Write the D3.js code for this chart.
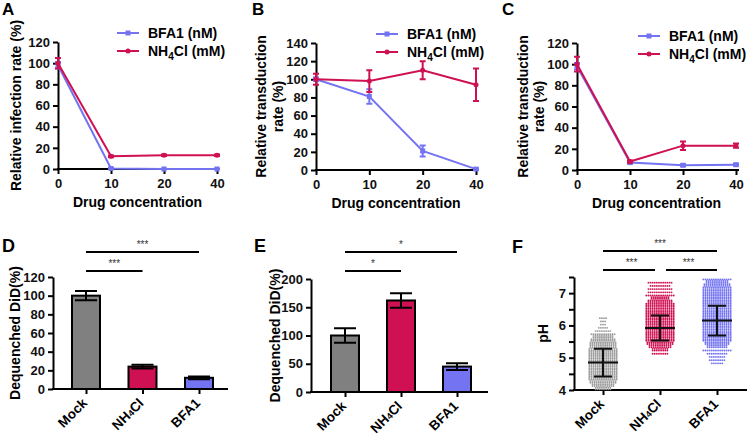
<!DOCTYPE html>
<html>
<head>
<meta charset="utf-8">
<script src="https://cdn.jsdelivr.net/npm/d3@7"></script>
<style>
  body { margin: 0; background: #fff; }
  svg { font-family: 'Liberation Sans', Arial, sans-serif; font-weight: bold; }
  .axis path, .axis line { stroke: #000; stroke-width: 2px; }
  .axis text { font-size: 13px; font-weight: bold; fill: #111; font-family: 'Liberation Sans', Arial, sans-serif; }
</style>
</head>
<body>
<svg width="750" height="436"></svg>
<script>
// ---- data ----
var concLabels = ['0', '10', '20', '40'];
var groups = ['Mock', 'NH4Cl', 'BFA1'];

// panel A: relative infection rate
var aBFA1 = [98, 0.5, 0, 0];
var aBFA1Err = [3, 0.5, 0.3, 0.3];
var aNH4 = [100, 12, 13, 13];
var aNH4Err = [5, 0.8, 0.8, 0.8];

// panel B: relative transduction rate
var bBFA1 = [100, 81, 21, 1];
var bBFA1Err = [2, 8, 6, 1];
var bNH4 = [100, 98, 110, 94];
var bNH4Err = [6, 12, 10, 18];

// panel C: relative transduction rate
var cBFA1 = [98, 7, 4.5, 5];
var cBFA1Err = [3, 1, 1, 1];
var cNH4 = [100, 8, 23, 23];
var cNH4Err = [7, 1, 4, 2];

// panel D / E: dequenched DiD (%)
var dMean = [100, 24, 12];
var dErr = [5, 2, 1.5];
var eMean = [100, 162, 45];
var eErr = [13, 13, 6];

// panel F: pH distribution, counts per 0.1 pH bin
var fBinStart = [4.0, 5.1, 4.8];
var fMockCounts = [16, 22, 26, 28, 28, 28, 28, 28, 28, 28, 28, 28, 28, 26, 26, 24, 20, 12, 8, 5, 3, 3, 4];
var fNH4Counts = [8, 16, 22, 26, 28, 28, 28, 28, 28, 28, 28, 28, 28, 28, 28, 28, 24, 18, 14, 12, 12, 10, 12];
var fBFA1Counts = [6, 8, 8, 10, 14, 20, 24, 28, 28, 28, 28, 28, 28, 28, 28, 28, 28, 28, 28, 28, 28, 28, 28, 28, 26, 22, 14];
var fMean = [4.85, 5.92, 6.15];
var fSD = [0.43, 0.39, 0.46];

var colors = {BFA1: '#7474f2', NH4: '#cf1052', mock: '#808080', mockDot: '#9c9c9c'};

var svg = d3.select('svg');

function panelLetter(x, y, t, size) {
  svg.append('text').attr('x', x).attr('y', y).attr('font-size', size).attr('font-weight', 'bold').text(t);
}

function nh4Text(sel, suffix, subSize, dy) {
  sel.append('tspan').text('NH');
  sel.append('tspan').attr('font-size', subSize).attr('dy', dy).text('4');
  sel.append('tspan').attr('dy', -dy).text('Cl' + suffix);
}

// ---- line panels A, B, C ----
function linePanel(p) {
  var g = svg.append('g');
  var x = d3.scalePoint().domain(concLabels).range([p.left, p.right]);
  var y = d3.scaleLinear().domain([0, p.yMax]).range([p.bottom, p.top]);

  g.append('g').attr('class', 'axis')
    .attr('transform', 'translate(' + p.left + ',0)')
    .call(d3.axisLeft(y).tickValues(d3.range(0, p.yMax + 1, 20)).tickSize(5).tickSizeOuter(0).tickPadding(3));
  g.append('g').attr('class', 'axis')
    .attr('transform', 'translate(0,' + p.bottom + ')')
    .call(d3.axisBottom(x).tickSize(5).tickSizeOuter(0).tickPadding(5))
    .select('.domain').attr('d', 'M' + (p.left - 1) + ',0H' + (p.right + 3));

  var series = [
    {v: p.bfa, e: p.bfaErr, c: colors.BFA1, sq: true},
    {v: p.nh4, e: p.nh4Err, c: colors.NH4, sq: false}
  ];
  var line = d3.line().x(function(d, i) { return x(concLabels[i]); }).y(function(d) { return y(d); });
  series.forEach(function(s) {
    g.append('path').datum(s.v).attr('d', line).attr('fill', 'none').attr('stroke', s.c).attr('stroke-width', 2);
    s.v.forEach(function(v, i) {
      var cx = x(concLabels[i]);
      var y1 = y(v + s.e[i]), y2 = y(Math.max(0, v - s.e[i]));
      g.append('path').attr('d', 'M' + cx + ',' + y1 + 'V' + y2 + 'M' + (cx - 3) + ',' + y1 + 'H' + (cx + 3) + 'M' + (cx - 3) + ',' + y2 + 'H' + (cx + 3))
        .attr('stroke', s.c).attr('stroke-width', 2).attr('fill', 'none');
      if (s.sq) g.append('rect').attr('x', cx - 2.5).attr('y', y(v) - 2.5).attr('width', 5).attr('height', 5).attr('fill', s.c);
      else g.append('circle').attr('cx', cx).attr('cy', y(v)).attr('r', 2.5).attr('fill', s.c);
    });
  });

  // legend
  var lg = [{label: 'BFA1 (nM)', c: colors.BFA1, sq: true, y: p.legY}, {label: null, c: colors.NH4, sq: false, y: p.legY + 18}];
  lg.forEach(function(l) {
    g.append('line').attr('x1', p.legX).attr('x2', p.legX + 22).attr('y1', l.y).attr('y2', l.y).attr('stroke', l.c).attr('stroke-width', 2);
    if (l.sq) g.append('rect').attr('x', p.legX + 8.5).attr('y', l.y - 2.5).attr('width', 5).attr('height', 5).attr('fill', l.c);
    else g.append('circle').attr('cx', p.legX + 11).attr('cy', l.y).attr('r', 2.5).attr('fill', l.c);
    var t = g.append('text').attr('x', p.legX + 31).attr('y', l.y + 5).attr('font-size', 14);
    if (l.label) t.text(l.label); else nh4Text(t, ' (mM)', 10, 4);
  });

  // axis titles
  g.append('text').attr('x', (p.left + p.right) / 2).attr('y', p.bottom + 38)
    .attr('text-anchor', 'middle').attr('font-size', 14).text('Drug concentration');
  p.yTitle.forEach(function(t, i) {
    g.append('text').attr('transform', 'translate(' + p.yTitleX[i] + ',' + (p.top + p.bottom) / 2 + ') rotate(-90)')
      .attr('text-anchor', 'middle').attr('dy', '0.35em').attr('font-size', 14).text(t);
  });
}

linePanel({left: 58, right: 217, top: 42, bottom: 169, yMax: 120, bfa: aBFA1, bfaErr: aBFA1Err, nh4: aNH4, nh4Err: aNH4Err,
  legX: 117, legY: 33, yTitle: ['Relative infection rate (%)'], yTitleX: [16]});
linePanel({left: 316, right: 476, top: 43, bottom: 170, yMax: 140, bfa: bBFA1, bfaErr: bBFA1Err, nh4: bNH4, nh4Err: bNH4Err,
  legX: 376, legY: 34, yTitle: ['Relative transduction', 'rate (%)'], yTitleX: [261, 278]});
linePanel({left: 577, right: 736, top: 43, bottom: 170, yMax: 120, bfa: cBFA1, bfaErr: cBFA1Err, nh4: cNH4, nh4Err: cNH4Err,
  legX: 638, legY: 36, yTitle: ['Relative transduction', 'rate (%)'], yTitleX: [523, 539]});

// ---- bottom panels D, E, F ----
function bottomAxes(p, y, yTicks, minor) {
  var g = svg.append('g');
  var x = d3.scalePoint().domain(groups).range([p.c0, p.c2]);
  var ya = d3.axisLeft(y).tickValues(minor || yTicks).tickSize(5).tickSizeOuter(0).tickPadding(3);
  if (minor) ya.tickFormat(function(d) { return yTicks.indexOf(d) >= 0 ? d : ''; });
  g.append('g').attr('class', 'axis').attr('transform', 'translate(' + p.left + ',0)').call(ya);
  var xa = g.append('g').attr('class', 'axis').attr('transform', 'translate(0,' + p.bottom + ')')
    .call(d3.axisBottom(x).tickSize(5).tickSizeOuter(0).tickFormat(''));
  xa.select('.domain').attr('d', 'M' + (p.left - 1) + ',0H' + p.end);
  groups.forEach(function(gr) {
    var t = g.append('text').attr('transform', 'translate(' + (x(gr) + 2) + ',' + (p.bottom + 15) + ') rotate(-45)')
      .attr('text-anchor', 'end').attr('font-size', 13.5);
    if (gr === 'NH4Cl') nh4Text(t, '', 9, 0); else t.text(gr);
  });
  g.append('text').attr('transform', 'translate(' + p.yTitleX + ',' + (p.top + p.bottom) / 2 + ') rotate(-90)')
    .attr('text-anchor', 'middle').attr('dy', '0.35em').attr('font-size', 14).text(p.yTitle);
  p.sig.forEach(function(s) {
    g.append('line').attr('x1', x(groups[s[0]]) + (s[3] || 0)).attr('x2', x(groups[s[1]]) + (s[4] || 0))
      .attr('y1', s[2]).attr('y2', s[2]).attr('stroke', '#000').attr('stroke-width', 2);
    g.append('text').attr('x', (x(groups[s[0]]) + x(groups[s[1]])) / 2).attr('y', s[2] - 4)
      .attr('text-anchor', 'middle').attr('font-size', 10).attr('font-weight', 'normal').attr('fill', '#333').text(p.star);
  });
  return {g: g, x: x};
}

function barPanel(p, means, errs, yMax, yStep) {
  var y = d3.scaleLinear().domain([0, yMax]).range([p.bottom, p.top]);
  var a = bottomAxes(p, y, d3.range(0, yMax + 1, yStep));
  var fills = [colors.mock, colors.NH4, colors.BFA1];
  a.g.selectAll('.bar').data(means).enter().append('rect')
    .attr('x', function(d, i) { return a.x(groups[i]) - 14; })
    .attr('y', function(d) { return y(d); })
    .attr('width', 28).attr('height', function(d) { return p.bottom - y(d); })
    .attr('fill', function(d, i) { return fills[i]; }).attr('stroke', '#000').attr('stroke-width', 2);
  means.forEach(function(m, i) {
    var cx = a.x(groups[i]), y1 = y(m + errs[i]), y2 = y(m - errs[i]);
    a.g.append('path').attr('d', 'M' + cx + ',' + y1 + 'V' + y2 + 'M' + (cx - 11) + ',' + y1 + 'H' + (cx + 11) + 'M' + (cx - 11) + ',' + y2 + 'H' + (cx + 11))
      .attr('stroke', '#000').attr('stroke-width', 2).attr('fill', 'none');
  });
}

barPanel({left: 53, end: 228, c0: 86, c2: 199, top: 277, bottom: 389, yTitle: 'Dequenched DiD(%)', yTitleX: 15,
  sig: [[0, 2, 252], [0, 1, 271]], star: '***'}, dMean, dErr, 120, 20);
barPanel({left: 311, end: 488, c0: 345, c2: 457, top: 279, bottom: 392, yTitle: 'Dequenched DiD(%)', yTitleX: 275,
  sig: [[0, 2, 252], [0, 1, 271]], star: '*'}, eMean, eErr, 200, 50);

// panel F: scatter dot plot
(function() {
  var p = {left: 574, end: 747, c0: 603, c2: 717, top: 277, bottom: 390, yTitle: 'pH', yTitleX: 543,
    sig: [[0, 2, 251], [0, 1, 270, 0, -5], [1, 2, 270, 6, 0]], star: '***'};
  var y = d3.scaleLinear().domain([4, 7.5]).range([p.bottom, p.top]);
  var a = bottomAxes(p, y, [4, 5, 6, 7], d3.range(4, 7.51, 0.5));
  var counts = [fMockCounts, fNH4Counts, fBFA1Counts];
  var dotCols = [colors.mockDot, colors.NH4, colors.BFA1];
  counts.forEach(function(cs, gi) {
    var cx = a.x(groups[gi]);
    var pts = [];
    cs.forEach(function(n, bi) {
      var v0 = fBinStart[gi] + bi * 0.1;
      var rows = n > 14 ? 2 : 1;
      for (var r = 0; r < rows; r++) {
        var k = rows === 2 ? (r === 0 ? Math.ceil(n / 2) : Math.floor(n / 2)) : n;
        for (var j = 0; j < k; j++) pts.push([cx + (j - (k - 1) / 2) * 2.1, y(v0 + 0.025 + r * 0.05)]);
      }
    });
    a.g.selectAll(null).data(pts).enter().append('circle')
      .attr('cx', function(d) { return d[0]; }).attr('cy', function(d) { return d[1]; })
      .attr('r', 0.95).attr('fill', dotCols[gi]);
    var ym = y(fMean[gi]), y1 = y(fMean[gi] + fSD[gi]), y2 = y(fMean[gi] - fSD[gi]);
    a.g.append('path').attr('d', 'M' + (cx - 15) + ',' + ym + 'H' + (cx + 15) + 'M' + cx + ',' + y1 + 'V' + y2 +
      'M' + (cx - 9) + ',' + y1 + 'H' + (cx + 9) + 'M' + (cx - 9) + ',' + y2 + 'H' + (cx + 9))
      .attr('stroke', '#111').attr('stroke-width', 2).attr('fill', 'none');
  });
})();

panelLetter(2, 15, 'A', 17);
panelLetter(252, 15, 'B', 17);
panelLetter(502, 15, 'C', 17);
panelLetter(2, 252, 'D', 18);
panelLetter(254, 252, 'E', 18);
panelLetter(512, 253, 'F', 18);
</script>
</body>
</html>
